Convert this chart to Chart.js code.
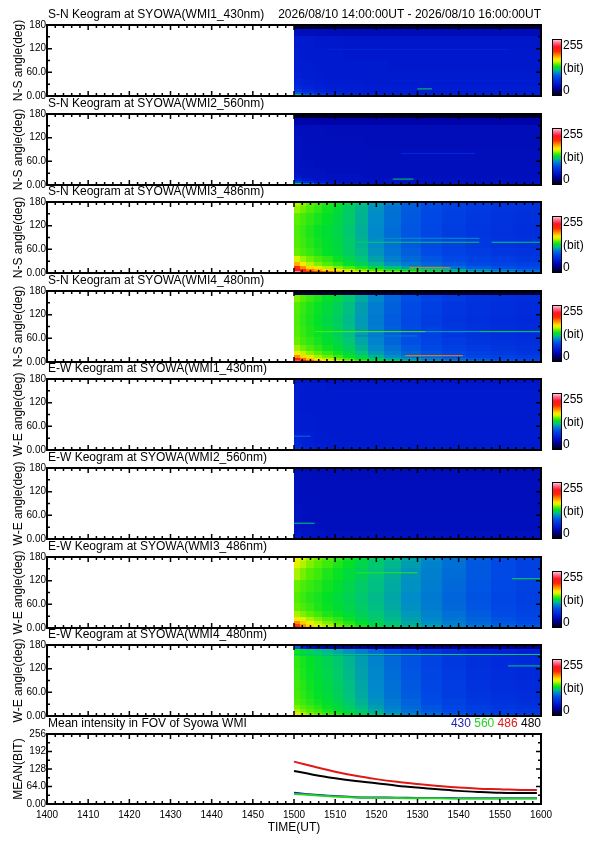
<!DOCTYPE html>
<html>
<head>
<meta charset="utf-8">
<title>Syowa WMI keograms</title>
<script src="https://cdn.jsdelivr.net/npm/chart.js@4.4.1/dist/chart.umd.min.js"></script>
<style>
  html, body { margin: 0; padding: 0; background: #fff; }
  #page { position: relative; width: 595px; height: 842px; overflow: hidden; }
  #page canvas { position: absolute; left: 0; }
</style>
</head>
<body>
<div id="page"></div>
<script>
// x values are minutes after 14:00 UT
var timeTicks = ['1400', '1410', '1420', '1430', '1440', '1450', '1500', '1510', '1520', '1530', '1540', '1550', '1600'];
var angleTicks = ['0.00', '60.0', '120', '180'];
var meanTicks = ['0.00', '64.0', '128', '192', '256'];
var barTicks = ['0', '255'];

// keogram cells: time edges (min) and angle edges (deg), top row first
var coarseCols = [60, 62, 65, 68, 72, 77, 83, 90, 97, 104, 112, 120];
var fineCols = [60, 61.5, 63, 65, 67, 69.5, 72, 75, 78, 82, 86, 91, 96, 102, 108, 114, 120];
var rowEdges = [180, 168, 150, 120, 90, 62, 42, 27, 17, 10, 5, 0];

var sn430 = [
  [14, 14, 14, 14, 14, 14, 14, 14, 14, 14, 14],
  [46, 45, 45, 44, 44, 44, 44, 44, 44, 44, 44],
  [56, 55, 54, 54, 53, 53, 53, 53, 53, 53, 53],
  [57, 56, 55, 55, 54, 54, 54, 54, 54, 54, 54],
  [58, 57, 56, 55, 55, 55, 54, 54, 54, 54, 54],
  [59, 58, 57, 56, 56, 55, 55, 55, 55, 55, 55],
  [61, 59, 58, 57, 57, 56, 56, 56, 56, 56, 56],
  [64, 61, 59, 58, 58, 57, 57, 57, 57, 57, 57],
  [72, 66, 62, 60, 59, 58, 58, 58, 58, 58, 58],
  [88, 76, 68, 64, 62, 60, 60, 60, 60, 60, 60],
  [111, 92, 78, 70, 66, 63, 62, 62, 62, 62, 62]
];
var sn560 = [
  [10, 10, 10, 10, 10, 10, 10, 10, 10, 10, 10],
  [38, 38, 37, 37, 37, 37, 37, 37, 37, 37, 37],
  [47, 46, 46, 45, 45, 45, 45, 45, 45, 45, 45],
  [48, 47, 46, 46, 46, 45, 45, 45, 45, 45, 45],
  [48, 47, 47, 46, 46, 46, 46, 46, 46, 46, 46],
  [49, 48, 47, 47, 47, 46, 46, 46, 46, 46, 46],
  [50, 49, 48, 47, 47, 47, 47, 47, 47, 47, 47],
  [53, 50, 49, 48, 48, 47, 47, 47, 47, 47, 47],
  [60, 54, 51, 49, 48, 48, 48, 48, 48, 48, 48],
  [80, 65, 56, 52, 50, 49, 49, 49, 49, 49, 49],
  [118, 95, 72, 60, 54, 51, 50, 50, 50, 50, 50]
];
var sn486 = [
  [152, 147, 142, 138, 134, 130, 124, 117, 108, 99, 91, 85, 80, 76, 73, 71],
  [148, 144, 140, 136, 132, 128, 122, 115, 106, 97, 90, 84, 79, 75, 72, 70],
  [142, 139, 136, 133, 130, 126, 121, 114, 105, 96, 89, 83, 78, 74, 71, 69],
  [140, 137, 134, 131, 128, 125, 120, 113, 104, 95, 88, 82, 77, 73, 70, 68],
  [141, 138, 135, 132, 129, 126, 121, 114, 105, 96, 89, 83, 78, 74, 71, 69],
  [143, 140, 137, 134, 130, 127, 122, 116, 107, 98, 91, 85, 80, 76, 73, 71],
  [155, 149, 144, 140, 136, 131, 125, 119, 110, 101, 94, 88, 83, 79, 76, 74],
  [175, 162, 152, 146, 141, 136, 130, 124, 116, 107, 99, 93, 88, 83, 80, 78],
  [200, 182, 167, 158, 151, 146, 140, 134, 126, 117, 109, 102, 96, 90, 86, 83],
  [218, 200, 185, 175, 167, 160, 152, 146, 140, 134, 128, 120, 112, 104, 97, 92],
  [242, 222, 205, 195, 188, 178, 165, 158, 152, 146, 140, 132, 122, 113, 106, 100]
];
var sn480 = [
  [12, 12, 12, 12, 12, 12, 12, 12, 12, 12, 12, 12, 12, 12, 12, 12],
  [146, 141, 137, 134, 130, 126, 120, 112, 103, 93, 86, 80, 75, 71, 69, 67],
  [141, 137, 134, 131, 127, 123, 117, 109, 100, 91, 84, 78, 73, 70, 68, 66],
  [140, 136, 133, 130, 126, 122, 116, 108, 99, 90, 83, 77, 72, 69, 67, 65],
  [141, 137, 134, 131, 127, 123, 117, 109, 100, 91, 84, 78, 73, 70, 68, 66],
  [143, 139, 136, 133, 129, 125, 119, 111, 102, 93, 86, 80, 75, 72, 70, 68],
  [149, 144, 140, 136, 132, 128, 122, 114, 105, 96, 89, 83, 78, 75, 72, 70],
  [162, 153, 147, 142, 137, 132, 126, 118, 109, 100, 93, 87, 82, 78, 75, 73],
  [182, 168, 158, 150, 144, 138, 131, 124, 115, 106, 99, 93, 87, 82, 79, 76],
  [205, 188, 172, 162, 153, 146, 139, 131, 123, 114, 107, 100, 93, 88, 84, 81],
  [232, 210, 190, 175, 164, 155, 147, 139, 131, 122, 114, 107, 100, 94, 89, 85]
];
var ew430 = [
  [52, 52, 51, 51, 51, 51, 51, 51, 51, 51, 51],
  [56, 55, 55, 54, 54, 54, 54, 54, 54, 54, 54],
  [57, 56, 55, 55, 55, 55, 55, 55, 55, 55, 55],
  [57, 56, 56, 55, 55, 55, 55, 55, 55, 55, 55],
  [58, 57, 56, 56, 56, 55, 55, 55, 55, 55, 55],
  [58, 57, 56, 56, 56, 56, 56, 56, 56, 56, 56],
  [60, 58, 57, 56, 56, 56, 56, 56, 56, 56, 56],
  [62, 59, 57, 57, 56, 56, 56, 56, 56, 56, 56],
  [64, 60, 58, 57, 57, 56, 56, 56, 56, 56, 56],
  [66, 61, 58, 57, 57, 57, 57, 57, 57, 57, 57],
  [70, 63, 59, 58, 57, 57, 57, 57, 57, 57, 57]
];
var ew560 = [
  [44, 44, 44, 44, 44, 44, 44, 44, 44, 44, 44],
  [46, 46, 45, 45, 45, 45, 45, 45, 45, 45, 45],
  [47, 46, 46, 46, 46, 46, 46, 46, 46, 46, 46],
  [47, 47, 46, 46, 46, 46, 46, 46, 46, 46, 46],
  [48, 47, 47, 46, 46, 46, 46, 46, 46, 46, 46],
  [48, 47, 47, 47, 47, 47, 47, 47, 47, 47, 47],
  [50, 48, 47, 47, 47, 47, 47, 47, 47, 47, 47],
  [51, 49, 48, 47, 47, 47, 47, 47, 47, 47, 47],
  [53, 50, 48, 48, 48, 48, 48, 48, 48, 48, 48],
  [55, 51, 49, 48, 48, 48, 48, 48, 48, 48, 48],
  [58, 52, 49, 48, 48, 48, 48, 48, 48, 48, 48]
];
var ew486 = [
  [162, 154, 148, 144, 140, 136, 132, 127, 122, 117, 111, 104, 97, 90, 85, 80],
  [158, 151, 146, 142, 138, 134, 130, 125, 120, 115, 109, 102, 96, 89, 84, 79],
  [150, 145, 141, 138, 134, 131, 127, 123, 118, 113, 107, 101, 95, 89, 84, 79],
  [143, 140, 137, 135, 132, 129, 125, 121, 117, 112, 106, 100, 94, 88, 83, 79],
  [141, 138, 135, 133, 130, 127, 124, 120, 116, 111, 105, 99, 93, 87, 82, 78],
  [143, 140, 137, 134, 131, 128, 125, 121, 117, 112, 106, 100, 94, 88, 83, 79],
  [150, 146, 142, 138, 134, 131, 127, 123, 119, 114, 108, 102, 96, 90, 85, 81],
  [163, 156, 150, 145, 140, 136, 131, 126, 121, 116, 110, 104, 98, 92, 87, 83],
  [182, 170, 160, 152, 146, 140, 135, 129, 124, 118, 112, 106, 100, 94, 89, 85],
  [196, 180, 167, 157, 150, 144, 138, 132, 126, 120, 114, 108, 102, 96, 91, 87],
  [200, 184, 170, 160, 152, 146, 140, 134, 128, 122, 116, 110, 104, 98, 93, 89]
];
var ew480 = [
  [90, 60, 45, 38, 35, 33, 32, 31, 30, 30, 30, 30, 30, 30, 30, 30],
  [132, 128, 124, 120, 116, 112, 107, 101, 94, 86, 79, 72, 67, 63, 61, 59],
  [136, 133, 130, 127, 124, 120, 115, 109, 102, 94, 87, 80, 74, 69, 66, 64],
  [137, 134, 131, 128, 125, 121, 116, 110, 103, 95, 88, 81, 75, 70, 67, 65],
  [138, 135, 132, 129, 126, 122, 117, 111, 104, 96, 89, 82, 76, 71, 68, 66],
  [139, 136, 133, 130, 127, 123, 118, 112, 105, 97, 90, 83, 77, 72, 69, 67],
  [141, 138, 135, 132, 129, 125, 120, 114, 107, 99, 92, 85, 79, 74, 71, 69],
  [145, 141, 138, 135, 131, 127, 122, 116, 109, 101, 94, 87, 81, 76, 73, 71],
  [150, 145, 141, 138, 134, 130, 125, 119, 112, 104, 96, 89, 83, 78, 75, 73],
  [156, 150, 145, 141, 137, 133, 128, 122, 115, 107, 99, 92, 86, 81, 77, 75],
  [162, 155, 149, 145, 141, 137, 132, 126, 119, 111, 103, 96, 90, 85, 81, 78]
];

// thin streaks: [angle, from, to, value]
var sn430Streaks = [[18, 90, 93.5, 125], [118, 68, 112, 62], [40, 84, 118, 60]];
var sn560Streaks = [[15, 84, 89, 122], [80, 86, 104, 66]];
var sn486Streaks = [[78, 73, 105, 122], [78, 108, 120, 120], [88, 80, 105, 106], [13, 88, 98, 182]];
var sn480Streaks = [[77, 65, 92, 140], [77, 92, 105, 112], [77, 105, 120, 128], [16, 87, 101, 185], [66, 75, 90, 100]];
var ew430Streaks = [[35, 60, 64, 95], [150, 70, 115, 60]];
var ew560Streaks = [[40, 60, 65, 118]];
var ew486Streaks = [[125, 113, 120, 128], [140, 75, 90, 135]];
var ew480Streaks = [[156, 60, 120, 122], [127, 112, 120, 118]];

// mean intensity in FOV
var meanTimes = [60, 65, 70, 75, 80, 85, 90, 95, 100, 105, 110, 115, 119];
var mean430 = [41, 34, 29, 25, 24, 23, 22, 22, 21, 21, 21, 21, 21];
var mean560 = [37, 32, 27, 24, 23, 22, 21, 21, 20, 20, 20, 20, 20];
var mean486 = [155, 136, 118, 103, 91, 81, 73, 66, 60, 56, 54, 51, 51];
var mean480 = [121, 106, 94, 84, 76, 67, 60, 54, 48, 44, 41, 40, 40];
var meanLabels = ['430', '560', '486', '480'];
var meanColors = ['#1c1cb4', '#22d422', '#e01818', '#000000'];

var dateRange = '2026/08/10 14:00:00UT - 2026/08/10 16:00:00UT';

var keograms = [
  { title: 'S-N Keogram at SYOWA(WMI1_430nm)', axis: 'N-S angle(deg)', grid: sn430, cols: coarseCols, streaks: sn430Streaks },
  { title: 'S-N Keogram at SYOWA(WMI2_560nm)', axis: 'N-S angle(deg)', grid: sn560, cols: coarseCols, streaks: sn560Streaks },
  { title: 'S-N Keogram at SYOWA(WMI3_486nm)', axis: 'N-S angle(deg)', grid: sn486, cols: fineCols, streaks: sn486Streaks },
  { title: 'S-N Keogram at SYOWA(WMI4_480nm)', axis: 'N-S angle(deg)', grid: sn480, cols: fineCols, streaks: sn480Streaks },
  { title: 'E-W Keogram at SYOWA(WMI1_430nm)', axis: 'W-E angle(deg)', grid: ew430, cols: coarseCols, streaks: ew430Streaks },
  { title: 'E-W Keogram at SYOWA(WMI2_560nm)', axis: 'W-E angle(deg)', grid: ew560, cols: coarseCols, streaks: ew560Streaks },
  { title: 'E-W Keogram at SYOWA(WMI3_486nm)', axis: 'W-E angle(deg)', grid: ew486, cols: fineCols, streaks: ew486Streaks },
  { title: 'E-W Keogram at SYOWA(WMI4_480nm)', axis: 'W-E angle(deg)', grid: ew480, cols: fineCols, streaks: ew480Streaks }
];

var FONT = '"Liberation Sans", Arial, Helvetica, sans-serif';
Chart.defaults.font.family = FONT;
Chart.defaults.font.size = 10;
Chart.defaults.color = '#000';

var panelTops = [25, 114, 202, 291, 379, 468, 557, 645];
var panelH = 71;

// rainbow + white colour table (0..255)
var cmap = [
  [0, 0, 0, 0], [15, 0, 0, 70], [35, 0, 0, 165], [60, 0, 32, 215], [85, 0, 75, 230],
  [105, 0, 140, 200], [118, 0, 195, 125], [130, 0, 225, 40], [142, 90, 238, 0],
  [155, 215, 245, 0], [165, 255, 230, 0], [180, 255, 150, 0], [200, 255, 40, 0],
  [220, 255, 20, 40], [240, 255, 120, 150], [255, 255, 230, 235]
];
function colorOf(v) {
  for (var i = 1; i < cmap.length; i++) {
    if (v <= cmap[i][0]) {
      var a = cmap[i - 1], b = cmap[i], f = (v - a[0]) / (b[0] - a[0]);
      return 'rgb(' + Math.round(a[1] + f * (b[1] - a[1])) + ',' +
        Math.round(a[2] + f * (b[2] - a[2])) + ',' + Math.round(a[3] + f * (b[3] - a[3])) + ')';
    }
  }
  return 'rgb(255,230,235)';
}

function makeCanvas(top, h) {
  var cv = document.createElement('canvas');
  cv.width = 595; cv.height = h;
  cv.style.top = top + 'px';
  document.getElementById('page').appendChild(cv);
  return cv;
}

function cellsPlugin(grid, cols, streaks) {
  return {
    id: 'cells',
    beforeDatasetsDraw: function (chart) {
      var ctx = chart.ctx, a = chart.chartArea, xs = chart.scales.x, ys = chart.scales.y;
      ctx.save();
      ctx.beginPath(); ctx.rect(a.left, a.top, a.right - a.left, a.bottom - a.top); ctx.clip();
      grid.forEach(function (row, r) {
        var y0 = ys.getPixelForValue(rowEdges[r]), y1 = ys.getPixelForValue(rowEdges[r + 1]);
        row.forEach(function (v, c) {
          var x0 = xs.getPixelForValue(cols[c]), x1 = xs.getPixelForValue(cols[c + 1]);
          ctx.fillStyle = colorOf(v);
          ctx.fillRect(Math.floor(x0), Math.floor(y0), Math.ceil(x1 - x0) + 1, Math.ceil(y1 - y0) + 1);
        });
      });
      streaks.forEach(function (s) {
        var y0 = ys.getPixelForValue(s[0] + 1.3), y1 = ys.getPixelForValue(s[0] - 1.3);
        var x0 = xs.getPixelForValue(s[1]), x1 = xs.getPixelForValue(s[2]);
        ctx.fillStyle = colorOf(s[3]);
        ctx.fillRect(x0, y0, x1 - x0, y1 - y0);
      });
      ctx.restore();
    }
  };
}

// IDL-style box with inward ticks on all sides
function framePlugin(yMinor, yMajor) {
  return {
    id: 'frame',
    afterDraw: function (chart) {
      var ctx = chart.ctx, a = chart.chartArea, xs = chart.scales.x, ys = chart.scales.y;
      ctx.save();
      ctx.strokeStyle = '#000';
      ctx.lineWidth = 1.5;
      ctx.beginPath();
      for (var t = xs.min; t <= xs.max; t += 2) {
        var px = xs.getPixelForValue(t), len = (t % 10 === 0) ? 5 : 3;
        ctx.moveTo(px, a.bottom); ctx.lineTo(px, a.bottom - len);
        ctx.moveTo(px, a.top); ctx.lineTo(px, a.top + len);
      }
      for (var v = ys.min; v <= ys.max; v += yMinor) {
        var py = ys.getPixelForValue(v), l = (v % yMajor === 0) ? 5 : 3;
        ctx.moveTo(a.left, py); ctx.lineTo(a.left + l, py);
        ctx.moveTo(a.right, py); ctx.lineTo(a.right - l, py);
      }
      ctx.stroke();
      ctx.lineWidth = 2;
      ctx.strokeRect(a.left, a.top, a.right - a.left, a.bottom - a.top);
      ctx.restore();
    }
  };
}

var colorbarPlugin = {
  id: 'colorbar',
  afterDraw: function (chart) {
    var ctx = chart.ctx, a = chart.chartArea;
    var x0 = a.right + 11, w = 10, y0 = a.top + 14, y1 = a.bottom;
    var g = ctx.createLinearGradient(0, y1, 0, y0);
    cmap.forEach(function (s) { g.addColorStop(s[0] / 255, colorOf(s[0])); });
    ctx.save();
    ctx.fillStyle = g;
    ctx.fillRect(x0, y0, w, y1 - y0);
    ctx.strokeStyle = '#000'; ctx.lineWidth = 1;
    ctx.strokeRect(x0 + 0.5, y0 + 0.5, w - 1, y1 - y0 - 1);
    ctx.fillStyle = '#000';
    ctx.font = '12px ' + FONT;
    ctx.textAlign = 'left'; ctx.textBaseline = 'middle';
    ctx.fillText(barTicks[1], x0 + w + 1, y0 + 7);
    ctx.fillText('(bit)', x0 + w + 1, (y0 + y1) / 2 + 1);
    ctx.fillText(barTicks[0], x0 + w + 1, y1 - 5);
    ctx.restore();
  }
};

function headerPlugin(title, extras) {
  return {
    id: 'header',
    afterDraw: function (chart) {
      var ctx = chart.ctx, a = chart.chartArea;
      ctx.save();
      ctx.font = '12px ' + FONT;
      ctx.textBaseline = 'middle';
      ctx.fillStyle = '#000';
      ctx.textAlign = 'left';
      ctx.fillText(title, a.left + 1, a.top - 10);
      var x = a.right, gap = ctx.measureText(' ').width;
      ctx.textAlign = 'right';
      for (var i = extras.length - 1; i >= 0; i--) {
        ctx.fillStyle = extras[i].color;
        ctx.fillText(extras[i].text, x, a.top - 10);
        x -= ctx.measureText(extras[i].text).width + gap;
      }
      ctx.restore();
    }
  };
}

function panelOptions(yMax, yStep, yLabels, yTitle, showX, padBottom) {
  return {
    responsive: false,
    animation: false,
    events: [],
    layout: { padding: { top: 22, right: 54, bottom: padBottom, left: 0 } },
    plugins: { legend: { display: false }, tooltip: { enabled: false } },
    scales: {
      x: {
        type: 'linear', min: 0, max: 120, display: showX,
        ticks: {
          stepSize: 10, autoSkip: false, maxRotation: 0, padding: 5,
          callback: function (v, i) { return timeTicks[i]; }
        },
        grid: { display: false, drawTicks: false },
        border: { display: false },
        title: { display: showX, text: 'TIME(UT)', font: { size: 12 }, padding: { top: 0, bottom: 3 } },
        afterFit: showX ? function (s) { s.height = 34; } : undefined
      },
      y: {
        type: 'linear', min: 0, max: yMax,
        ticks: {
          stepSize: yStep, padding: 1,
          callback: function (v, i) { return yLabels[i]; }
        },
        grid: { display: false, drawTicks: false },
        border: { display: false },
        title: { display: true, text: yTitle, font: { size: 12 }, padding: { top: 11, bottom: 0 } },
        afterFit: function (s) { s.width = 47; }
      }
    }
  };
}

keograms.forEach(function (k, i) {
  var cv = makeCanvas(panelTops[i] - 22, 22 + panelH + 12);
  new Chart(cv, {
    type: 'scatter',
    data: { datasets: [] },
    options: panelOptions(180, 60, angleTicks, k.axis, false, 12),
    plugins: [
      cellsPlugin(k.grid, k.cols, k.streaks),
      framePlugin(30, 60),
      colorbarPlugin,
      headerPlugin(k.title, i === 0 ? [{ text: dateRange, color: '#000' }] : [])
    ]
  });
});

// bottom panel: mean intensity lines
var meanSeries = [mean430, mean560, mean486, mean480];
var meanOrder = [4, 3, 1, 2];
var meanCanvas = makeCanvas(734 - 22, 130);
new Chart(meanCanvas, {
  type: 'line',
  data: {
    datasets: meanSeries.map(function (s, i) {
      return {
        label: meanLabels[i],
        data: meanTimes.map(function (t, j) { return { x: t, y: s[j] }; }),
        borderColor: meanColors[i],
        borderWidth: 2,
        pointRadius: 0,
        fill: false,
        tension: 0.35,
        order: meanOrder[i]
      };
    })
  },
  options: panelOptions(256, 64, meanTicks, 'MEAN(BIT)', true, 130 - 22 - 70 - 34),
  plugins: [
    framePlugin(32, 64),
    headerPlugin('Mean intensity in FOV of Syowa WMI', meanLabels.map(function (l, i) {
      return { text: l, color: meanColors[i] };
    }))
  ]
});
</script>
</body>
</html>
